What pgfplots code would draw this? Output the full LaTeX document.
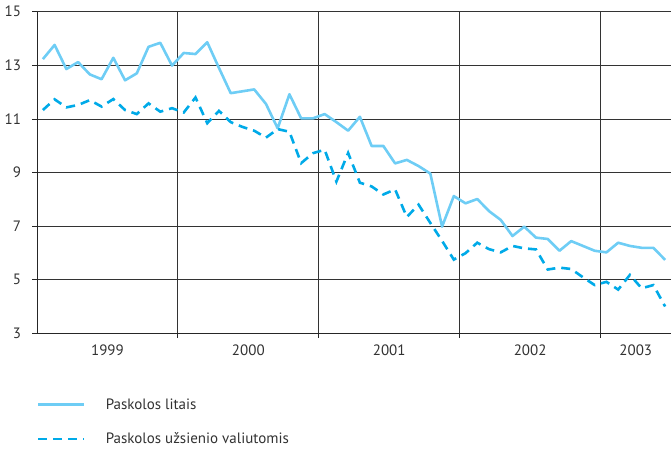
\documentclass[border=0pt]{standalone}
\usepackage{pgfplots}
\pgfplotsset{compat=1.18}
\usepackage{pgfplotstable}
\usepackage{fontspec}
\setmainfont{PT Sans}
\definecolor{litcol}{RGB}{110,205,245}
\definecolor{valcol}{RGB}{0,170,232}
\definecolor{txt}{RGB}{50,50,50}
\pgfplotstableread{
x litai valiuta
0.5 13.23 11.33
1.5 13.76 11.73
2.5 12.86 11.43
3.5 13.12 11.52
4.5 12.66 11.70
5.5 12.48 11.46
6.5 13.28 11.74
7.5 12.44 11.33
8.5 12.70 11.18
9.5 13.69 11.58
10.5 13.84 11.27
11.5 12.99 11.40
12.5 13.46 11.24
13.5 13.42 11.80
14.5 13.86 10.84
15.5 12.90 11.30
16.5 11.96 10.88
17.5 12.03 10.70
18.5 12.10 10.56
19.5 11.56 10.30
20.5 10.65 10.62
21.5 11.92 10.52
22.5 11.02 9.35
23.5 11.02 9.72
24.5 11.18 9.85
25.5 10.88 8.66
26.5 10.56 9.73
27.5 11.08 8.62
28.5 9.99 8.48
29.5 9.99 8.18
30.5 9.34 8.37
31.5 9.47 7.34
32.5 9.24 7.80
33.5 8.96 7.12
34.5 6.98 6.45
35.5 8.12 5.75
36.5 7.85 5.99
37.5 8.01 6.38
38.5 7.56 6.14
39.5 7.23 6.02
40.5 6.63 6.26
41.5 6.98 6.17
42.5 6.57 6.13
43.5 6.52 5.38
44.5 6.08 5.45
45.5 6.44 5.40
46.5 6.26 5.09
47.5 6.08 4.80
48.5 6.02 4.92
49.5 6.38 4.63
50.5 6.26 5.18
51.5 6.19 4.68
52.5 6.19 4.80
53.5 5.74 4.00
}\datatable
\begin{document}
\begin{tikzpicture}
\begin{axis}[
  at={(0pt,0pt)}, anchor=south west,
  scale only axis,
  width=634pt, height=321.6pt,
  xmin=0, xmax=54, ymin=3, ymax=15,
  axis lines=left,
  axis line style={-, black!85, line width=0.8pt},
  ytick={3,5,7,9,11,13,15},
  xtick={12,24,36,48},
  xticklabels={},
  extra x ticks={6,18,30,42,51},
  extra x tick labels={1999,2000,2001,2002,2003},
  extra x tick style={grid=none, major tick length=0pt},
  tick align=outside,
  major tick length=4.5pt,
  tick style={black!85, line width=0.8pt},
  ymajorgrids, xmajorgrids,
  grid style={black!80, line width=0.8pt},
  /pgf/number format/assume math mode=true,
  tick label style={font=\fontsize{15}{18}\selectfont, text=txt},
  yticklabel style={xshift=-8pt},
  xticklabel style={yshift=-8pt},
  clip=false,
  legend cell align=left,
  legend image code/.code={\draw[#1] (0pt,0pt) -- (46pt,0pt);},
  legend style={at={(axis description cs:0,0)}, anchor=north west,
    yshift=-63pt, draw=none, fill=none, inner sep=0pt,
    font=\fontsize{15}{18}\selectfont, text=txt, row sep=18pt,
    /tikz/every odd column/.append style={column sep=18pt}},
]
\addplot[litcol, line width=2.6pt, line join=round] table[x=x, y=litai] {\datatable};
\addlegendentry{Paskolos litais}
\addplot[valcol, line width=2.6pt, dash pattern=on 9pt off 6pt] table[x=x, y=valiuta] {\datatable};
\addlegendentry{Paskolos užsienio valiutomis}
\end{axis}
\pgfresetboundingbox
\path (-37pt,-114.7pt) rectangle (634pt,333.3pt);
\end{tikzpicture}
\end{document}
